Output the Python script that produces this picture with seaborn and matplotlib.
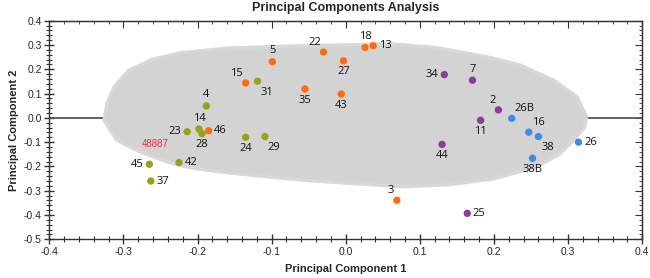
import pandas as pd
import seaborn as sns
import matplotlib.pyplot as plt
from matplotlib.ticker import MultipleLocator

# Sample scores on the first two principal components
labels = ["4", "14", "28", "46", "23", "45", "42", "37",
          "5", "22", "18", "13", "27", "15", "31", "35", "43", "24", "29", "3",
          "34", "7", "2", "11", "44", "25",
          "26B", "16", "38", "38B", "26"]
pc1 = [-0.188, -0.198, -0.194, -0.185, -0.214, -0.265, -0.225, -0.263,
       -0.099, -0.030, 0.026, 0.037, -0.003, -0.135, -0.119, -0.055, -0.006, -0.135, -0.109, 0.069,
       0.133, 0.171, 0.206, 0.182, 0.130, 0.164,
       0.224, 0.247, 0.260, 0.252, 0.314]
pc2 = [0.049, -0.046, -0.065, -0.053, -0.057, -0.191, -0.184, -0.260,
       0.231, 0.271, 0.290, 0.297, 0.235, 0.144, 0.151, 0.119, 0.098, -0.080, -0.077, -0.339,
       0.178, 0.155, 0.033, -0.010, -0.109, -0.393,
       -0.002, -0.059, -0.077, -0.166, -0.100]
groups = ["green", "green", "green", "orange", "green", "green", "green", "green",
          "orange", "orange", "orange", "orange", "orange", "orange", "green", "orange", "orange",
          "green", "green", "orange",
          "purple", "purple", "purple", "purple", "purple", "purple",
          "blue", "blue", "blue", "blue", "blue"]

# outline of the simulated population cloud (48887 samples)
cloud_x = [-0.326, -0.322, -0.312, -0.293, -0.262, -0.222, -0.16, -0.08, 0.0, 0.06, 0.12,
           0.19, 0.235, 0.28, 0.312, 0.325, 0.322, 0.305, 0.288, 0.255, 0.2, 0.14, 0.08,
           0.02, -0.05, -0.12, -0.17, -0.21, -0.24, -0.278, -0.309]
cloud_y = [-0.01, 0.06, 0.13, 0.195, 0.24, 0.268, 0.287, 0.295, 0.30, 0.305, 0.29,
           0.252, 0.218, 0.156, 0.087, 0.005, -0.04, -0.1, -0.15, -0.205, -0.25, -0.275, -0.283,
           -0.272, -0.258, -0.238, -0.222, -0.205, -0.182, -0.139, -0.091]

palette = {"green": "#98a11b", "orange": "#ff6a13", "purple": "#8b3a9b", "blue": "#3b8ee6"}

# where each point label sits relative to its marker
placement = {"4": "t", "14": "t", "28": "b", "46": "r", "23": "l", "45": "l", "42": "r",
             "37": "r", "5": "t", "22": "tl", "18": "t", "13": "r", "27": "b", "15": "tl",
             "31": "br", "35": "b", "43": "b", "24": "b", "29": "br", "3": "tl", "34": "l",
             "7": "t", "2": "tl", "11": "b", "44": "b", "25": "r", "26B": "tr", "16": "tr",
             "38": "br", "38B": "b", "26": "r"}
offsets = {"t": ((0, 4), "center", "bottom"), "b": ((0, -4), "center", "top"),
           "l": ((-4, 0), "right", "center"), "r": ((4, 0), "left", "center"),
           "tl": ((-2, 3), "right", "bottom"), "tr": ((2, 3), "left", "bottom"),
           "br": ((2, -4), "left", "top")}

df = pd.DataFrame({"label": labels, "pc1": pc1, "pc2": pc2, "group": groups})

sns.set_style("white")
plt.rcParams["font.family"] = ["Liberation Sans", "DejaVu Sans"]

fig = plt.figure(figsize=(6.5, 2.78), dpi=100)
ax = fig.add_axes([0.0758, 0.139, 0.9122, 0.7865])

ax.axhline(0, color="#555555", lw=1.3, zorder=1)
ax.fill(cloud_x, cloud_y, color="#d3d3d3", ec="#d8d8d8", lw=2.5, zorder=2)
ax.text(-0.257, -0.106, "48887", color="#f0303f", fontsize=7, ha="center", va="center", zorder=3)

sns.scatterplot(data=df, x="pc1", y="pc2", hue="group", palette=palette, s=28,
                edgecolor="none", legend=False, ax=ax, zorder=4)

for lab, x, y in zip(labels, pc1, pc2):
    (dx, dy), ha, va = offsets[placement[lab]]
    ax.annotate(lab, (x, y), xytext=(dx, dy), textcoords="offset points",
                ha=ha, va=va, fontsize=8, family=["Open Sans", "DejaVu Sans"],
                color="#111111", zorder=5)

ax.set_xlim(-0.4, 0.4)
ax.set_ylim(-0.5, 0.4)
ax.xaxis.set_major_locator(MultipleLocator(0.1))
ax.xaxis.set_minor_locator(MultipleLocator(0.02))
ax.yaxis.set_major_locator(MultipleLocator(0.1))
ax.yaxis.set_minor_locator(MultipleLocator(0.02))
ax.xaxis.set_major_formatter(lambda v, p: f"{v:.1f}".replace("-0.0", "0.0"))
ax.yaxis.set_major_formatter(lambda v, p: f"{v:.1f}".replace("-0.0", "0.0"))
ax.tick_params(which="major", direction="inout", length=7, width=1, labelsize=7.5,
               color="#333333", pad=2)
ax.tick_params(which="minor", direction="inout", length=4, width=0.8, color="#333333")
ax.tick_params(which="both", top=False, right=False, bottom=True, left=True)

# inward ticks on the top and right frame
top = ax.secondary_xaxis("top")
top.xaxis.set_major_locator(MultipleLocator(0.1))
top.xaxis.set_minor_locator(MultipleLocator(0.02))
top.tick_params(which="major", direction="in", length=5, labeltop=False, color="#333333")
top.tick_params(which="minor", direction="in", length=2.5, color="#333333")
right = ax.secondary_yaxis("right")
right.yaxis.set_major_locator(MultipleLocator(0.1))
right.yaxis.set_minor_locator(MultipleLocator(0.02))
right.tick_params(which="major", direction="in", length=5, labelright=False, color="#333333")
right.tick_params(which="minor", direction="in", length=2.5, color="#333333")

for sp in ax.spines.values():
    sp.set_color("#333333")
    sp.set_linewidth(1)

ax.set_xlabel("Principal Component 1", fontsize=8, fontweight="bold", labelpad=5)
ax.set_ylabel("Principal Component 2", fontsize=8, fontweight="bold", labelpad=3)
ax.set_title("Principal Components Analysis", fontsize=9, fontweight="bold", pad=7)

fig.savefig("out.png", dpi=100)
